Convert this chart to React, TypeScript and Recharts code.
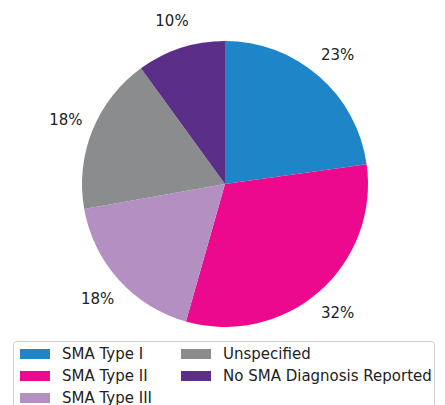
import React from "react";
import { PieChart, Pie, Cell, Legend } from "recharts";

const categories = [
  "SMA Type I",
  "SMA Type II",
  "SMA Type III",
  "Unspecified",
  "No SMA Diagnosis Reported",
];
const shares = [22.8, 31.6, 17.8, 17.8, 10.0];
const colors = ["#1e86c8", "#ec098d", "#b48fc2", "#8b8c8e", "#5b2e87"];

const data = categories.map((name, i) => ({ name, value: shares[i] }));

const FONT = "'DejaVu Sans', sans-serif";
const RADIAN = Math.PI / 180;

const renderLabel = (props: any) => {
  const { cx, cy, midAngle, outerRadius, percent } = props;
  const r = outerRadius * 1.2;
  const x = cx + r * Math.cos(-midAngle * RADIAN);
  const y = cy + r * Math.sin(-midAngle * RADIAN);
  return (
    <text
      x={x}
      y={y}
      textAnchor="middle"
      dominantBaseline="central"
      fontFamily={FONT}
      fontSize={15}
      fill="#222"
    >
      {`${Math.round(percent * 100)}%`}
    </text>
  );
};

const LegendBox = () => (
  <div
    style={{
      position: "relative",
      width: 420,
      height: 70,
      border: "1px solid #d0d0d0",
      borderRadius: 4,
      background: "#fff",
      fontFamily: FONT,
      fontSize: 15,
      color: "#222",
    }}
  >
    {categories.map((c, i) => {
      const col = Math.floor(i / 3);
      const row = i % 3;
      const cyRel = 12 + row * 21.8;
      const swLeft = col === 0 ? 6 : 167;
      const txLeft = col === 0 ? 48 : 209;
      return (
        <React.Fragment key={c}>
          <div
            style={{
              position: "absolute",
              left: swLeft,
              top: cyRel - 5,
              width: 30,
              height: 10,
              background: colors[i],
            }}
          />
          <div
            style={{
              position: "absolute",
              left: txLeft,
              top: cyRel - 10,
              height: 20,
              lineHeight: "20px",
              whiteSpace: "nowrap",
            }}
          >
            {c}
          </div>
        </React.Fragment>
      );
    })}
  </div>
);

export default function App() {
  return (
    <div style={{ position: "absolute", left: 0, top: 0 }}>
      <PieChart width={445} height={405} margin={{ top: 0, right: 0, bottom: 0, left: 0 }}>
        <Pie
          data={data}
          dataKey="value"
          nameKey="name"
          cx={225}
          cy={184}
          outerRadius={143}
          startAngle={90}
          endAngle={-270}
          stroke="none"
          label={renderLabel}
          labelLine={false}
          isAnimationActive={false}
        >
          {data.map((d, i) => (
            <Cell key={d.name} fill={colors[i]} />
          ))}
        </Pie>
        <Legend
          content={() => <LegendBox />}
          wrapperStyle={{ position: "absolute", left: 13, top: 341, width: 422, height: 70, bottom: "auto" }}
        />
      </PieChart>
    </div>
  );
}
